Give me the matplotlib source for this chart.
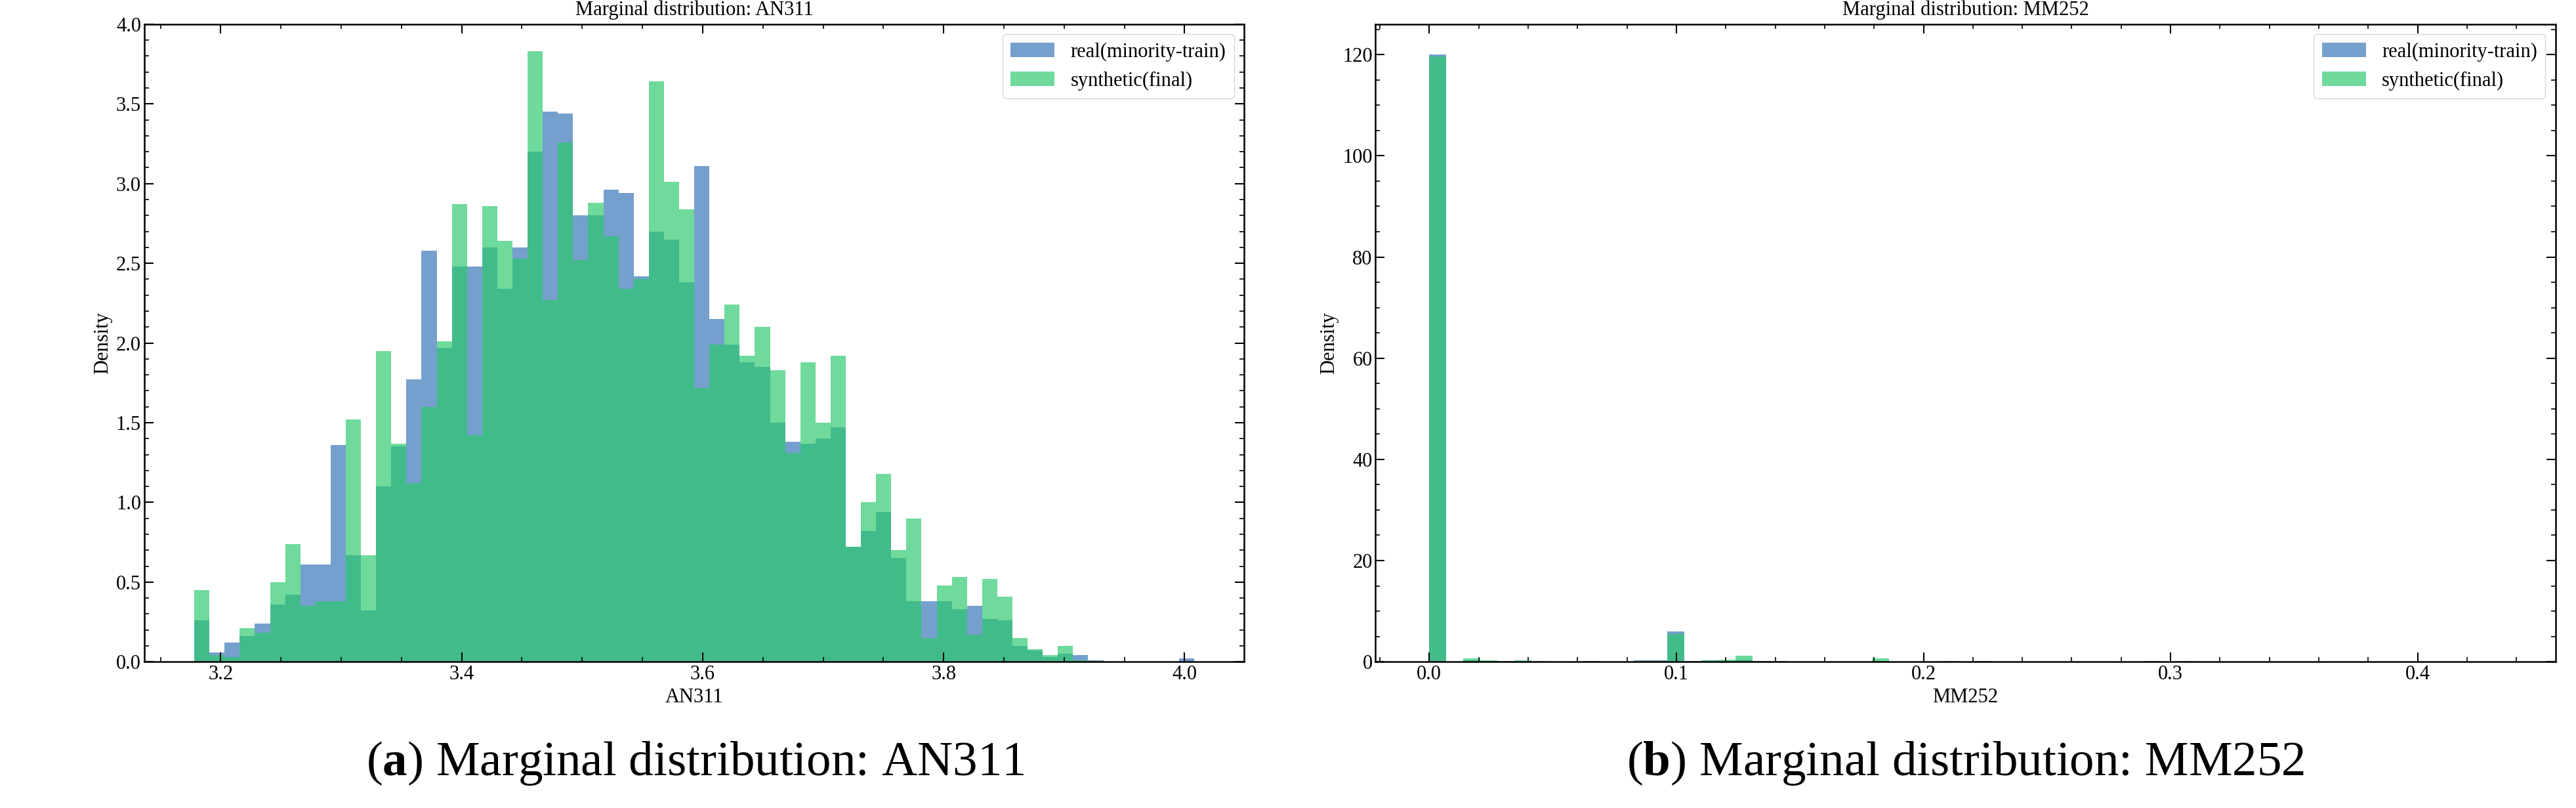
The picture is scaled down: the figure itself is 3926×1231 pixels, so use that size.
import numpy as np
import matplotlib
matplotlib.use("Agg")
import matplotlib.pyplot as plt

plt.rcParams['font.family'] = ['Liberation Serif', 'DejaVu Serif']
plt.rcParams['mathtext.fontset'] = 'custom'
plt.rcParams['mathtext.rm'] = 'Liberation Serif'
plt.rcParams['mathtext.bf'] = 'Liberation Serif:bold'

# AN311: 66 bins, density values
an_lo, an_hi, an_nbins = 3.178, 4.008, 66
an_real = [.26, .06, .12, .16, .24, .36, .42, .61, .61, 1.36, .67, .32, 1.10, 1.35, 1.77, 2.58,
           1.97, 2.48, 2.48, 2.60, 2.34, 2.60, 3.20, 3.45, 3.44, 2.80, 2.80, 2.96, 2.94, 2.42,
           2.70, 2.65, 2.38, 3.11, 2.15, 1.99, 1.88, 1.85, 1.50, 1.38, 1.37, 1.40, 1.47, .72,
           .82, .94, .65, .38, .38, .38, .33, .35, .27, .26, .10, .07, .03, .05, .04, .01,
           0, 0, 0, 0, 0, .02]
an_syn = [.45, .04, .03, .21, .18, .50, .74, .35, .38, .38, 1.52, .67, 1.95, 1.37, 1.12, 1.60,
          2.01, 2.87, 1.42, 2.86, 2.64, 2.53, 3.83, 2.27, 3.26, 2.52, 2.88, 2.67, 2.34, 2.40,
          3.64, 3.01, 2.84, 1.72, 1.99, 2.24, 1.92, 2.10, 1.83, 1.31, 1.88, 1.50, 1.92, .72,
          1.00, 1.18, .70, .90, .15, .48, .53, .17, .52, .41, .15, .08, .04, .10, .01, 0,
          0, 0, 0, 0, 0, 0]

# MM252: 63 bins
mm_lo, mm_hi, mm_nbins = 0.0, 0.434, 63
mm_real = np.zeros(mm_nbins)
mm_syn = np.zeros(mm_nbins)
mm_real_vals = {0: 120.0, 2: 0.3, 3: 0.2, 4: 0.2, 5: 0.15, 9: 0.1, 12: 0.3, 13: 0.3, 14: 6.0,
                15: 0.2, 16: 0.3, 17: 0.2, 18: 0.4, 19: 0.2, 20: 0.1, 26: 0.1, 32: 0.1, 42: 0.1}
mm_syn_vals = {0: 119.6, 2: 0.7, 3: 0.3, 4: 0.2, 5: 0.3, 6: 0.2, 9: 0.1, 14: 5.5, 16: 0.3,
               17: 0.4, 18: 1.2, 19: 0.2, 26: 0.7, 30: 0.1, 44: 0.1}
for k, v in mm_real_vals.items():
    mm_real[k] = v
for k, v in mm_syn_vals.items():
    mm_syn[k] = v

labels = ["real(minority-train)", "synthetic(final)"]
c_real = "#3a78b8"
c_syn = "#2bc96c"

fig = plt.figure(figsize=(39.26, 12.31), dpi=100)
ax1 = fig.add_axes([0.056, 0.181, 0.427, 0.789])
ax2 = fig.add_axes([0.534, 0.181, 0.458, 0.789])


def draw(ax, lo, hi, n, real, syn, name):
    edges = np.linspace(lo, hi, n + 1)
    ax.hist(edges[:-1], bins=edges, weights=real, color=c_real, alpha=0.7, label=labels[0])
    ax.hist(edges[:-1], bins=edges, weights=syn, color=c_syn, alpha=0.68, label=labels[1])
    ax.set_title("Marginal distribution: " + name, fontsize=22, pad=10)
    ax.set_xlabel(name, fontsize=22)
    ax.set_ylabel("Density", fontsize=22)
    ax.tick_params(which="both", direction="in", top=True, right=True, labelsize=22)
    ax.tick_params(which="major", length=10, width=1.5)
    ax.tick_params(which="minor", length=5, width=1.2)
    ax.minorticks_on()
    for s in ax.spines.values():
        s.set_linewidth(1.8)
    leg = ax.legend(fontsize=22, loc="upper right", frameon=True, handlelength=2.2)
    leg.get_frame().set_edgecolor("#cccccc")


draw(ax1, an_lo, an_hi, an_nbins, an_real, an_syn, "AN311")
ax1.set_ylim(0, 4.0)
draw(ax2, mm_lo, mm_hi, mm_nbins, mm_real, mm_syn, "MM252")

fig.text(0.27, 0.055, r"($\mathbf{a}$) Marginal distribution: AN311", ha="center", va="center", fontsize=54)
fig.text(0.763, 0.055, r"($\mathbf{b}$) Marginal distribution: MM252", ha="center", va="center", fontsize=54)

fig.savefig("out.png", dpi=100)
